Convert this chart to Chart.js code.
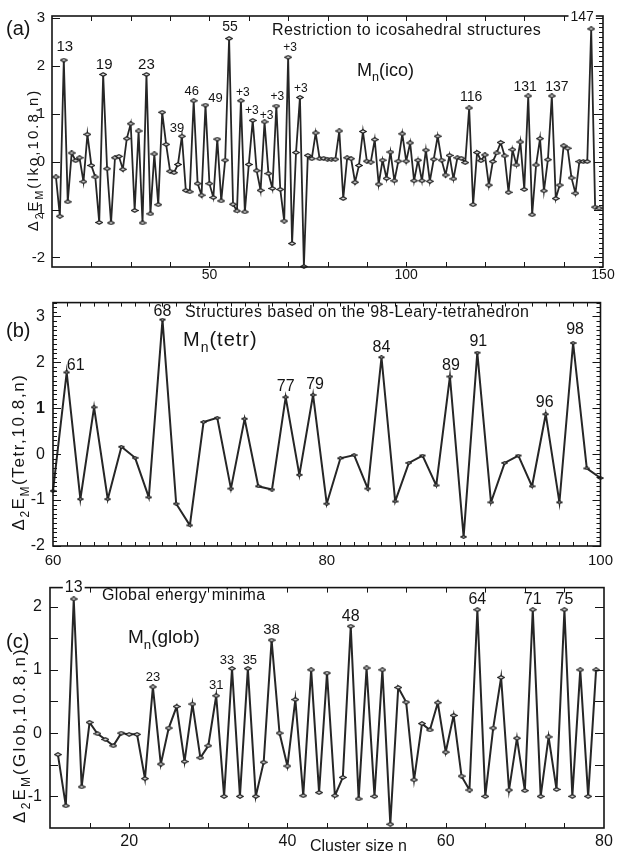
<!DOCTYPE html>
<html>
<head>
<meta charset="utf-8">
<script src="https://cdn.jsdelivr.net/npm/chart.js@4.4.0/dist/chart.umd.min.js"></script>
<style>
    html, body { margin: 0; padding: 0; background: #fff; }
    #wrap { position: relative; width: 619px; height: 856px; }
    canvas { position: absolute; left: 0; }
</style>
</head>
<body>
<div id="wrap">
    <canvas id="chartIco" width="619" height="285" style="top:0px"></canvas>
    <canvas id="chartTetr" width="619" height="285" style="top:285px"></canvas>
    <canvas id="chartGlob" width="619" height="286" style="top:570px"></canvas>
</div>
<script>
// (a) icosahedral structures, n = 11..149
const icoStart = 11;
const icoValues = [
    -0.32, -1.14, 2.12, -0.84, 0.18, 0.02, 0.08, -0.42, 0.57, -0.08,
    -0.32, -1.27, 1.82, -0.15, -1.28, 0.08, 0.11, -0.16, 0.48, 0.79,
    -1.02, 0.64, -1.28, 1.82, -1.09, 0.16, -0.90, 1.03, 0.36, -0.20,
    -0.23, -0.06, 0.53, -0.60, -0.63, 1.27, -0.46, -0.70, 1.18, -0.46,
    -0.75, 0.47, -0.82, 0.03, 2.57, -0.89, -1.03, 1.27, -1.05, -0.06,
    0.86, -0.19, -0.60, 0.83, -0.25, -0.56, 1.16, -0.58, -1.24, 2.18,
    -1.71, 0.19, 1.34, -2.19, 0.13, 0.06, 0.60, 0.06, 0.07, 0.05,
    0.05, 0.05, 0.64, -0.77, 0.08, 0.06, -0.43, -0.08, 0.63, 0.01,
    -0.01, 0.46, -0.47, 0.03, -0.35, 0.20, -0.40, 0.01, 0.58, 0.01,
    0.39, -0.40, 0.03, -0.40, 0.24, -0.41, 0.05, 0.53, 0.03, -0.28,
    0.13, -0.36, 0.08, 0.07, -0.02, 1.12, -0.90, 0.19, 0.02, 0.14,
    -0.49, 0.00, 0.18, 0.40, 0.12, -0.64, 0.25, -0.07, 0.41, -0.58,
    1.37, -1.11, -0.07, 0.48, -0.61, 0.04, 1.37, -0.77, -0.49, 0.33,
    0.28, -0.34, -0.66, 0.00, 0.00, 0.00, 2.77, -0.95, -0.97
];
const icoPeakN = [13, 23, 34, 43, 46, 49, 55, 58, 61, 64, 67, 70, 73, 116, 131, 137, 147];
const icoPeakText = ['13', '19', '23', '39', '46', '49', '55', '+3', '+3', '+3', '+3', '+3', '+3', '116', '131', '137', '147'];
const icoXTicks = [50, 100, 150];
const icoYTicks = [-2, -1, 0, 1, 2, 3];

// (b) 98-Leary-tetrahedron structures, n = 60..100
const tetrStart = 60;
const tetrValues = [
    -0.80, 1.78, -0.98, 1.02, -0.98, 0.16, -0.08, -0.94, 2.93, -1.08,
    -1.55, 0.70, 0.79, -0.75, 0.77, -0.70, -0.77, 1.24, -0.45, 1.29,
    -1.08, -0.09, -0.02, -0.75, 2.11, -1.03, -0.19, -0.03, -0.68, 1.69,
    -1.80, 2.21, -1.05, -0.19, -0.03, -0.70, 0.87, -1.05, 2.42, -0.31,
    -0.52
];
const tetrPeakN = [61, 68, 77, 79, 84, 89, 91, 96, 98];
const tetrPeakText = ['61', '68', '77', '79', '84', '89', '91', '96', '98'];
const tetrXTicks = [60, 80, 100];
const tetrYTicks = [-2, -1, 0, 1, 2, 3];

// (c) global energy minima, n = 11..79
const globStart = 11;
const globValues = [
    -0.34, -1.15, 2.12, -0.85, 0.17, -0.01, -0.10, -0.20, 0.00, -0.02,
    -0.02, -0.72, 0.73, -0.49, 0.08, 0.42, -0.45, 0.46, -0.39, -0.20,
    0.59, -1.00, 1.02, -1.00, 1.02, -1.00, -0.46, 1.47, 0.00, -0.52,
    0.53, -0.99, 1.00, -0.94, 0.95, -0.99, -0.70, 1.69, -1.04, 1.03,
    -1.00, 1.00, -1.44, 0.72, 0.49, -0.74, 0.15, 0.05, 0.48, -0.30,
    0.28, -0.68, -0.90, 1.95, -1.00, 0.08, 0.88, -0.90, -0.08, -0.91,
    1.95, -1.00, -0.06, -0.89, 1.95, -1.00, 1.00, -1.00, 1.00
];
const globPeakN = [13, 23, 31, 33, 35, 38, 48, 64, 71, 75];
const globPeakText = ['13', '23', '31', '33', '35', '38', '48', '64', '71', '75'];
const globXTicks = [20, 40, 60, 80];
const globYTicks = [-1, 0, 1, 2];

const FONT = "'Liberation Sans', Arial, sans-serif";
const INK = '#141414';
const LINE = '#262626';

function toPoints(start, values) {
    return values.map((v, i) => ({ x: start + i, y: v }));
}

// small flattened diamond used as marker
function diamond(w, h) {
    const c = document.createElement('canvas');
    c.width = w;
    c.height = h;
    const g = c.getContext('2d');
    g.beginPath();
    g.moveTo(0.7, h / 2);
    g.lineTo(w / 2, 0.7);
    g.lineTo(w - 0.7, h / 2);
    g.lineTo(w / 2, h - 0.7);
    g.closePath();
    g.fillStyle = '#e4e4e4';
    g.fill();
    g.strokeStyle = '#1e1e1e';
    g.lineWidth = 1.2;
    g.stroke();
    return c;
}

// text with subscripts, optionally rotated
function drawRich(ctx, it) {
    ctx.save();
    ctx.translate(it.x, it.y);
    if (it.rotate) ctx.rotate(-Math.PI / 2);
    ctx.fillStyle = INK;
    ctx.textBaseline = 'alphabetic';
    ctx.textAlign = 'left';
    if ('letterSpacing' in ctx) ctx.letterSpacing = (it.spacing || 0) + 'px';
    const segs = it.parts.map(p => {
        const size = p[1] ? it.size * 0.7 : it.size;
        ctx.font = size + 'px ' + FONT;
        return { t: p[0], size: size, sub: p[1], w: ctx.measureText(p[0]).width };
    });
    const total = segs.reduce((s, g) => s + g.w, 0);
    let x = it.align === 'center' ? -total / 2 : 0;
    const base = it.middle ? it.size * 0.36 : 0;
    segs.forEach(g => {
        ctx.font = g.size + 'px ' + FONT;
        ctx.fillText(g.t, x, base + (g.sub ? it.size * 0.3 : 0));
        x += g.w;
    });
    ctx.restore();
}

const richText = {
    id: 'richText',
    afterDraw(chart, args, opts) {
        (opts.items || []).forEach(it => drawRich(chart.ctx, it));
    }
};

// frame plus inward tick marks on all four sides
const frameTicks = {
    id: 'frameTicks',
    afterDatasetsDraw(chart, args, opts) {
        const ctx = chart.ctx;
        const a = chart.chartArea;
        ctx.save();
        ctx.strokeStyle = INK;
        ctx.lineWidth = 1;
        (opts.marks || []).forEach(m => {
            const sc = m.axis === 'x' ? chart.scales.x : chart.scales.y;
            const count = Math.round((m.to - m.from) / m.step);
            for (let i = 0; i <= count; i++) {
                const v = m.from + i * m.step;
                const p = Math.round(sc.getPixelForValue(v)) + 0.5;
                ctx.beginPath();
                if (m.side === 'left') { ctx.moveTo(a.left, p); ctx.lineTo(a.left + m.len, p); }
                if (m.side === 'right') { ctx.moveTo(a.right, p); ctx.lineTo(a.right - m.len, p); }
                if (m.side === 'bottom') { ctx.moveTo(p, a.bottom); ctx.lineTo(p, a.bottom - m.len); }
                if (m.side === 'top') { ctx.moveTo(p, a.top); ctx.lineTo(p, a.top + m.len); }
                ctx.stroke();
            }
        });
        ctx.lineWidth = 1.6;
        ctx.strokeRect(a.left, a.top, a.right - a.left, a.bottom - a.top);
        ctx.restore();
    }
};

// numbers written over the marked peaks
const peakLabels = {
    id: 'peakLabels',
    afterDraw(chart, args, opts) {
        const ctx = chart.ctx;
        const xs = chart.scales.x;
        const ys = chart.scales.y;
        const pts = chart.data.datasets[0].data;
        ctx.save();
        ctx.textAlign = 'center';
        ctx.textBaseline = 'middle';
        opts.n.forEach((n, i) => {
            const pt = pts.find(p => p.x === n);
            const st = opts.style[i];
            const x = xs.getPixelForValue(pt.x) + st[0];
            const y = ys.getPixelForValue(pt.y) + st[1];
            const size = st[2];
            ctx.font = size + 'px ' + FONT;
            if (st[3]) {
                const w = ctx.measureText(opts.text[i]).width;
                ctx.fillStyle = '#fff';
                ctx.fillRect(x - w / 2 - 2, y - size * 0.5, w + 4, size);
            }
            ctx.fillStyle = INK;
            ctx.fillText(opts.text[i], x, y);
        });
        ctx.restore();
    }
};

function buildChart(id, o) {
    return new Chart(document.getElementById(id), {
        type: 'line',
        data: {
            datasets: [{
                data: o.points,
                borderColor: LINE,
                borderWidth: o.lineWidth,
                pointStyle: o.marker,
                pointRadius: 4,
                pointHoverRadius: 4,
                tension: 0,
                clip: 4
            }]
        },
        options: {
            responsive: false,
            animation: false,
            devicePixelRatio: 1,
            events: [],
            layout: { padding: o.padding },
            plugins: {
                legend: { display: false },
                tooltip: { enabled: false },
                frameTicks: { marks: o.marks },
                peakLabels: o.peaks,
                richText: { items: o.texts }
            },
            scales: {
                x: {
                    type: 'linear',
                    min: o.xMin,
                    max: o.xMax,
                    grid: { display: false, drawTicks: false },
                    border: { display: false },
                    afterBuildTicks: s => { s.ticks = o.xTicks.map(v => ({ value: v })); },
                    afterFit: s => { s.height = o.xHeight; },
                    ticks: {
                        autoSkip: false,
                        maxRotation: 0,
                        padding: o.xPad,
                        color: INK,
                        font: { family: FONT, size: o.xFont },
                        callback: v => String(v)
                    }
                },
                y: {
                    type: 'linear',
                    min: o.yMin,
                    max: o.yMax,
                    grid: { display: false, drawTicks: false },
                    border: { display: false },
                    afterBuildTicks: s => { s.ticks = o.yTicks.map(v => ({ value: v })); },
                    afterFit: s => { s.width = o.yWidth; },
                    ticks: {
                        autoSkip: false,
                        padding: o.yPad,
                        color: INK,
                        font: o.yFontFn || { family: FONT, size: o.yFont },
                        callback: v => String(v)
                    }
                }
            }
        },
        plugins: [frameTicks, peakLabels, richText]
    });
}

function yTitle(word, x, y, size, spacing) {
    return {
        parts: [['\u0394'], ['2', true], ['E'], ['M', true], ['(' + word + ',10.8,n)']],
        x: x, y: y, size: size, rotate: true, align: 'center', middle: true, spacing: spacing
    };
}

// (a)
buildChart('chartIco', {
    points: toPoints(icoStart, icoValues),
    lineWidth: 1.8,
    marker: diamond(8, 5),
    padding: { left: 0, right: 16, top: 13, bottom: 0 },
    xMin: 10, xMax: 150, xTicks: icoXTicks, xHeight: 18, xPad: 0, xFont: 14,
    yMin: -2.2, yMax: 3.04, yTicks: icoYTicks, yWidth: 52, yPad: 7, yFont: 15,
    marks: [
        { axis: 'x', side: 'bottom', from: 20, to: 140, step: 10, len: 5 },
        { axis: 'x', side: 'top', from: 20, to: 140, step: 10, len: 5 },
        { axis: 'y', side: 'left', from: -2, to: 3, step: 1, len: 8 },
        { axis: 'y', side: 'right', from: -2, to: 3, step: 1, len: 9 },
        { axis: 'y', side: 'right', from: -2.2, to: 3, step: 0.1, len: 4 }
    ],
    peaks: {
        n: icoPeakN,
        text: icoPeakText,
        style: [
            [1, -13, 15], [1, -10, 15], [0, -10, 15], [-5, -8, 13], [-2, -9, 13],
            [10, -7, 13], [1, -11, 14], [2, -8, 12], [-1, -10, 12], [2, -6, 12],
            [1, -9, 12], [2, -10, 12], [1, -9, 12], [2, -11, 14], [-3, -9, 14],
            [5, -9, 14], [-9, -12, 14, true]
        ]
    },
    texts: [
        { parts: [['(a)']], x: 6, y: 28, size: 20, middle: true },
        yTitle('Iko', 33, 160, 15, 2),
        { parts: [['Restriction to icosahedral structures']], x: 272, y: 29, size: 16, middle: true, spacing: 0.4 },
        { parts: [['M'], ['n', true], ['(ico)']], x: 357, y: 76, size: 18 }
    ]
});

// (b)
buildChart('chartTetr', {
    points: toPoints(tetrStart, tetrValues),
    lineWidth: 2,
    marker: diamond(7, 4),
    padding: { left: 0, right: 14, top: 8, bottom: 0 },
    xMin: 60, xMax: 100, xTicks: tetrXTicks, xHeight: 24, xPad: 6, xFont: 15,
    yMin: -2, yMax: 3.3, yTicks: tetrYTicks, yWidth: 53, yPad: 8,
    yFontFn: ctx => ({ family: FONT, size: 16, weight: ctx.tick && ctx.tick.value === 1 ? 'bold' : 'normal' }),
    marks: [
        { axis: 'x', side: 'bottom', from: 61, to: 99, step: 1, len: 4 },
        { axis: 'x', side: 'top', from: 61, to: 99, step: 1, len: 4 },
        { axis: 'y', side: 'left', from: -2, to: 3, step: 1, len: 8 },
        { axis: 'y', side: 'left', from: -2, to: 3.3, step: 0.1, len: 4 },
        { axis: 'y', side: 'right', from: -2, to: 3, step: 1, len: 8 },
        { axis: 'y', side: 'right', from: -2, to: 3.3, step: 0.1, len: 4 }
    ],
    peaks: {
        n: tetrPeakN,
        text: tetrPeakText,
        style: [
            [9, -7, 16], [0, -8, 16], [0, -11, 16], [2, -10, 16], [0, -10, 16],
            [1, -11, 16], [1, -11, 16], [-1, -12, 16], [2, -13, 16]
        ]
    },
    texts: [
        { parts: [['(b)']], x: 6, y: 45, size: 20, middle: true },
        yTitle('Tetr', 18, 167, 17, 1.6),
        { parts: [['Structures based on the 98-Leary-tetrahedron']], x: 185, y: 26, size: 16, middle: true, spacing: 0.45 },
        { parts: [['M'], ['n', true], ['(tetr)']], x: 183, y: 61, size: 20, spacing: 1 }
    ]
});

// (c)
buildChart('chartGlob', {
    points: toPoints(globStart, globValues),
    lineWidth: 2,
    marker: diamond(8, 5),
    padding: { left: 0, right: 15, top: 5, bottom: 0 },
    xMin: 10, xMax: 80, xTicks: globXTicks, xHeight: 28, xPad: 4, xFont: 16,
    yMin: -1.5, yMax: 2.3, yTicks: globYTicks, yWidth: 50, yPad: 8, yFont: 16,
    marks: [
        { axis: 'x', side: 'bottom', from: 15, to: 75, step: 5, len: 5 },
        { axis: 'x', side: 'top', from: 15, to: 75, step: 5, len: 5 },
        { axis: 'y', side: 'left', from: -1, to: 2, step: 0.5, len: 8 },
        { axis: 'y', side: 'right', from: -1, to: 2, step: 0.5, len: 9 }
    ],
    peaks: {
        n: globPeakN,
        text: globPeakText,
        style: [
            [0, -11, 16, true], [0, -10, 13], [0, -10, 13], [-5, -8, 13], [2, -8, 13],
            [0, -10, 15], [0, -10, 16], [0, -10, 16], [0, -10, 16], [0, -10, 16]
        ]
    },
    texts: [
        { parts: [['(c)']], x: 6, y: 71, size: 20, middle: true },
        yTitle('Glob', 19, 165, 17, 2.2),
        { parts: [['Global energy minima']], x: 102, y: 24, size: 16, middle: true, spacing: 0.4 },
        { parts: [['M'], ['n', true], ['(glob)']], x: 128, y: 73, size: 19 },
        { parts: [['Cluster size n']], x: 310, y: 275, size: 16, middle: true }
    ]
});
</script>
</body>
</html>
